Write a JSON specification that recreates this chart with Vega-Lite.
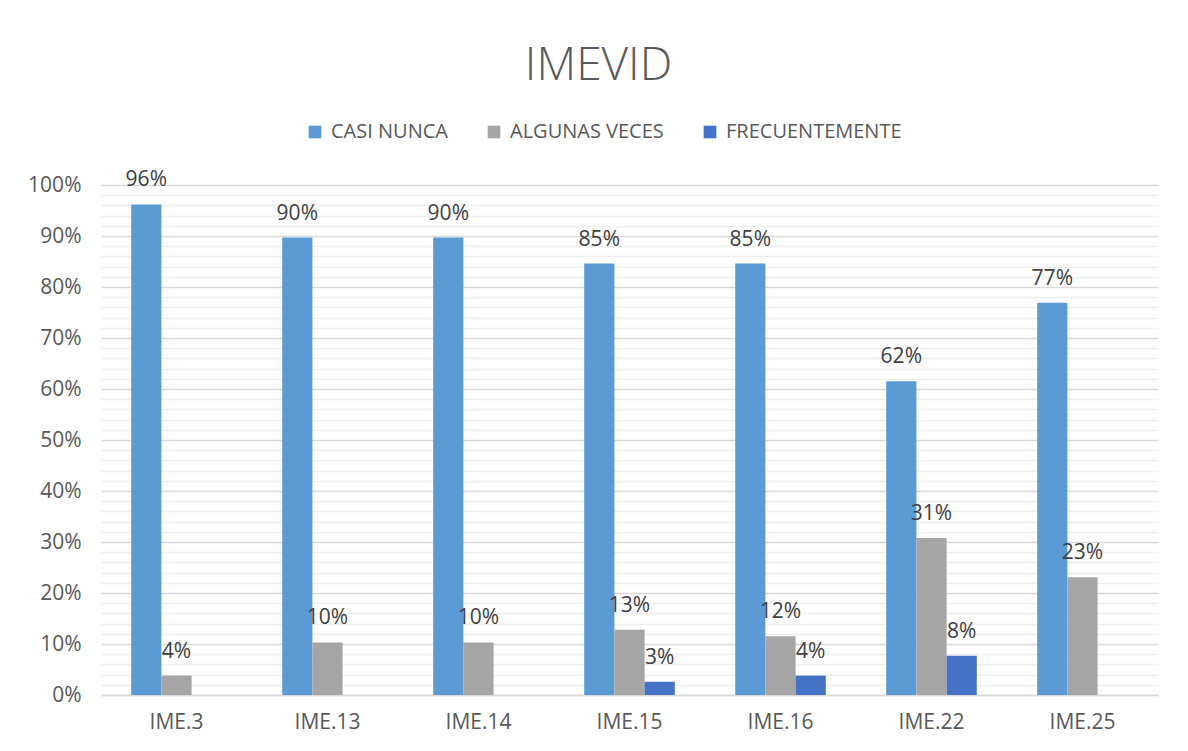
{
  "$schema": "https://vega.github.io/schema/vega-lite/v6.json",
  "width": 1057,
  "height": 510,
  "autosize": "none",
  "padding": {"left": 101, "top": 185, "right": 30, "bottom": 56},
  "background": "white",
  "title": {"text": "IMEVID", "fontSize": 46, "font": "Open Sans", "fontWeight": 300, "color": "#595959", "offset": 32, "dx": -31, "anchor": "middle"},
  "data": {"values": [
    {"item": "IME.3", "cat": "CASI NUNCA", "v": 0.962},
    {"item": "IME.3", "cat": "ALGUNAS VECES", "v": 0.038},
    {"item": "IME.13", "cat": "CASI NUNCA", "v": 0.897},
    {"item": "IME.13", "cat": "ALGUNAS VECES", "v": 0.103},
    {"item": "IME.14", "cat": "CASI NUNCA", "v": 0.897},
    {"item": "IME.14", "cat": "ALGUNAS VECES", "v": 0.103},
    {"item": "IME.15", "cat": "CASI NUNCA", "v": 0.846},
    {"item": "IME.15", "cat": "ALGUNAS VECES", "v": 0.128},
    {"item": "IME.15", "cat": "FRECUENTEMENTE", "v": 0.026},
    {"item": "IME.16", "cat": "CASI NUNCA", "v": 0.846},
    {"item": "IME.16", "cat": "ALGUNAS VECES", "v": 0.115},
    {"item": "IME.16", "cat": "FRECUENTEMENTE", "v": 0.038},
    {"item": "IME.22", "cat": "CASI NUNCA", "v": 0.615},
    {"item": "IME.22", "cat": "ALGUNAS VECES", "v": 0.308},
    {"item": "IME.22", "cat": "FRECUENTEMENTE", "v": 0.077},
    {"item": "IME.25", "cat": "CASI NUNCA", "v": 0.769},
    {"item": "IME.25", "cat": "ALGUNAS VECES", "v": 0.231}
  ]},
  "encoding": {
    "x": {"field": "item", "type": "nominal", "sort": ["IME.3", "IME.13", "IME.14", "IME.15", "IME.16", "IME.22", "IME.25"],
      "scale": {"paddingInner": 0.4, "paddingOuter": 0.2},
      "axis": {"title": null, "labelAngle": 0, "ticks": false, "domainColor": "#d9d9d9", "domainWidth": 1.5, "labelPadding": 16, "labelFontSize": 21, "labelFont": "Open Sans", "labelColor": "#595959", "grid": false}},
    "xOffset": {"field": "cat", "type": "nominal", "sort": ["CASI NUNCA", "ALGUNAS VECES", "FRECUENTEMENTE"], "scale": {"domain": ["CASI NUNCA", "ALGUNAS VECES", "FRECUENTEMENTE"], "paddingInner": 0, "paddingOuter": 0}}
  },
  "layer": [
    {
      "mark": {"type": "bar"},
      "encoding": {
        "y": {"field": "v", "type": "quantitative", "scale": {"domain": [0, 1]},
          "axis": {"title": null, "format": ".0%", "values": [0, 0.1, 0.2, 0.3, 0.4, 0.5, 0.6, 0.7, 0.8, 0.9, 1], "ticks": false, "domain": false, "grid": true, "gridColor": "#d9d9d9", "gridWidth": 1.5, "labelPadding": 20, "labelFontSize": 21, "labelFont": "Open Sans", "labelColor": "#595959", "orient": "left"}},
        "color": {"field": "cat", "type": "nominal", "sort": ["CASI NUNCA", "ALGUNAS VECES", "FRECUENTEMENTE"],
          "scale": {"domain": ["CASI NUNCA", "ALGUNAS VECES", "FRECUENTEMENTE"], "range": ["#5B9BD5", "#A5A5A5", "#4472C4"]},
          "legend": {"title": null, "orient": "none", "legendX": 204, "legendY": -63, "direction": "horizontal", "symbolType": "square", "symbolSize": 160, "symbolStrokeWidth": 0, "labelFontSize": 20, "labelFont": "Open Sans", "labelColor": "#595959", "labelLimit": 400, "columnPadding": 36, "labelOffset": 6}}
      }
    },
    {
      "mark": {"type": "text", "dy": -24, "fontSize": 21, "font": "Open Sans", "color": "#404040"},
      "encoding": {
        "y": {"field": "v", "type": "quantitative", "scale": {"domain": [0, 1]},
          "axis": {"title": null, "labels": false, "ticks": false, "domain": false, "orient": "left", "grid": true, "gridColor": "#efefef", "gridWidth": 1.5,
            "values": [0.02, 0.04, 0.06, 0.08, 0.12, 0.14, 0.16, 0.18, 0.22, 0.24, 0.26, 0.28, 0.32, 0.34, 0.36, 0.38, 0.42, 0.44, 0.46, 0.48, 0.52, 0.54, 0.56, 0.58, 0.62, 0.64, 0.66, 0.68, 0.72, 0.74, 0.76, 0.78, 0.82, 0.84, 0.86, 0.88, 0.92, 0.94, 0.96, 0.98]}},
        "text": {"field": "v", "type": "quantitative", "format": ".0%"}
      }
    }
  ],
  "resolve": {"axis": {"y": "independent"}},
  "config": {"view": {"stroke": null}}
}
